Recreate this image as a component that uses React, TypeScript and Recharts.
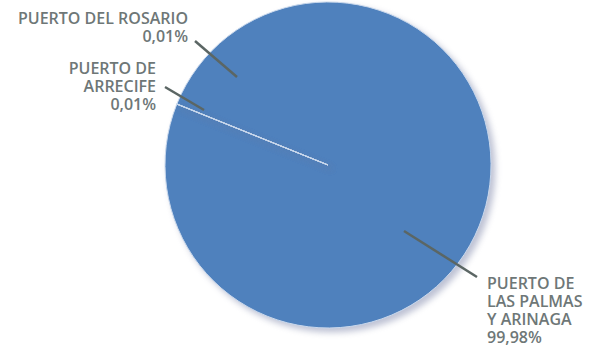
import React from 'react';
import { PieChart, Pie, Cell } from 'recharts';

const PORTS = ['PUERTO DE LAS PALMAS Y ARINAGA', 'PUERTO DEL ROSARIO', 'PUERTO DE ARRECIFE'];
const SHARES = [99.98, 0.01, 0.01];
const LABEL_LINES = [
  ['PUERTO DE', 'LAS PALMAS', 'Y ARINAGA'],
  ['PUERTO DEL ROSARIO'],
  ['PUERTO DE', 'ARRECIFE'],
];

const data = PORTS.map((name, i) => ({ name, value: SHARES[i], lines: LABEL_LINES[i] }));

const TEXT_COLOR = '#6e7777';
const LEADER_COLOR = '#5b6664';
const FONT = '"Open Sans", "Noto Sans", sans-serif';

// label placement relative to the pie centre: leader from/to and text anchor
const LABEL_LAYOUT = [
  { from: [76, 66], to: [149, 112], tx: 159, ty: 124, anchor: 'start' },
  { from: [-91, -88], to: [-133, -124], tx: -140, ty: -141, anchor: 'end' },
  { from: [-124, -55], to: [-163, -78], tx: -172, ty: -91, anchor: 'end' },
];

const fmt = (v: number) => v.toFixed(2).replace('.', ',') + '%';

const renderLabel = (props: any) => {
  const { cx, cy, index, value, payload } = props;
  const l = LABEL_LAYOUT[index];
  const lines: string[] = [...(payload.lines || LABEL_LINES[index]), fmt(value)];
  return (
    <g key={`lbl-${index}`}>
      <line
        x1={cx + l.from[0]}
        y1={cy + l.from[1]}
        x2={cx + l.to[0]}
        y2={cy + l.to[1]}
        stroke={LEADER_COLOR}
        strokeWidth={2.5}
      />
      <text
        x={cx + l.tx}
        y={cy + l.ty}
        textAnchor={l.anchor}
        fill={TEXT_COLOR}
        fontFamily={FONT}
        fontSize={16}
        fontWeight={600}
      >
        {lines.map((t, i) => (
          <tspan key={i} x={cx + l.tx} dy={i === 0 ? 0 : 18}>
            {t}
          </tspan>
        ))}
      </text>
    </g>
  );
};

export default function App() {
  return (
    <div style={{ position: 'absolute', left: 0, top: 0, width: 589, height: 347, background: '#fff' }}>
      <PieChart width={589} height={347} margin={{ top: 0, right: 0, bottom: 0, left: 0 }}>
        <Pie
          data={data}
          dataKey="value"
          nameKey="name"
          cx={328}
          cy={165}
          outerRadius={163}
          startAngle={158}
          endAngle={-202}
          stroke="#c9d8ec"
          strokeWidth={1}
          label={renderLabel}
          labelLine={false}
          isAnimationActive={false}
          style={{ filter: 'drop-shadow(4px 4px 3px rgba(110,120,160,0.45))' }}
        >
          {data.map((d) => (
            <Cell key={d.name} fill="#4f81bd" />
          ))}
        </Pie>
      </PieChart>
    </div>
  );
}
